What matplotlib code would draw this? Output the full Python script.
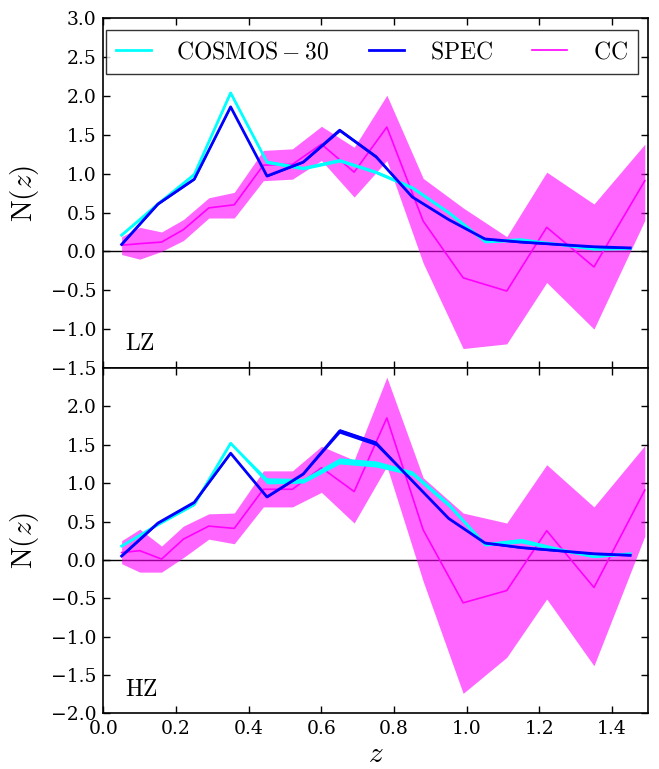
import numpy as np
import matplotlib
matplotlib.use("Agg")
import matplotlib.pyplot as plt

plt.rcParams['font.family'] = ['DejaVu Serif']
plt.rcParams['mathtext.fontset'] = 'cm'

# --- data -------------------------------------------------------------
z_bins = [0.05, 0.15, 0.25, 0.35, 0.45, 0.55, 0.65, 0.75, 0.85, 0.95,
          1.05, 1.15, 1.25, 1.35, 1.45]
z_cc = [0.05, 0.10, 0.16, 0.22, 0.29, 0.36, 0.44, 0.52, 0.60, 0.69,
        0.78, 0.88, 0.99, 1.11, 1.22, 1.35, 1.49]

# LZ panel
lz_cosmos = [0.21, 0.61, 0.99, 2.04, 1.15, 1.07, 1.17, 1.02, 0.82, 0.50,
             0.13, 0.15, 0.09, 0.03, 0.035]
lz_cosmos_err = [0.01, 0.01, 0.01, 0.01, 0.02, 0.02, 0.02, 0.02, 0.02, 0.02,
                 0.02, 0.02, 0.01, 0.01, 0.01]
lz_spec = [0.09, 0.61, 0.93, 1.86, 0.97, 1.15, 1.56, 1.22, 0.70, 0.41,
           0.16, 0.12, 0.09, 0.06, 0.045]
lz_spec_err = [0.01, 0.01, 0.01, 0.01, 0.01, 0.01, 0.02, 0.02, 0.01, 0.01,
               0.01, 0.01, 0.01, 0.01, 0.01]
lz_cc = [0.08, 0.10, 0.12, 0.28, 0.56, 0.60, 1.11, 1.12, 1.38, 1.02,
         1.60, 0.39, -0.34, -0.51, 0.31, -0.20, 0.91]
lz_cc_lo = [-0.04, -0.10, 0.00, 0.14, 0.43, 0.43, 0.91, 0.93, 1.17, 0.70,
            1.17, -0.15, -1.25, -1.19, -0.40, -1.00, 0.40]
lz_cc_hi = [0.19, 0.31, 0.25, 0.41, 0.69, 0.76, 1.30, 1.32, 1.61, 1.34,
            2.01, 0.94, 0.56, 0.19, 1.02, 0.61, 1.38]

# HZ panel
hz_cosmos = [0.18, 0.46, 0.72, 1.52, 1.03, 1.03, 1.29, 1.25, 1.13, 0.72,
             0.20, 0.25, 0.14, 0.04, 0.08]
hz_cosmos_err = [0.01, 0.01, 0.01, 0.01, 0.04, 0.03, 0.04, 0.04, 0.03, 0.03,
                 0.02, 0.03, 0.02, 0.01, 0.01]
hz_spec = [0.05, 0.48, 0.75, 1.39, 0.82, 1.12, 1.68, 1.52, 1.03, 0.54,
           0.22, 0.16, 0.12, 0.08, 0.06]
hz_spec_err = [0.01, 0.01, 0.01, 0.01, 0.01, 0.01, 0.03, 0.03, 0.01, 0.01,
               0.01, 0.01, 0.01, 0.01, 0.01]
hz_cc = [0.095, 0.12, 0.01, 0.27, 0.44, 0.41, 0.92, 0.92, 1.20, 0.89,
         1.85, 0.39, -0.56, -0.40, 0.38, -0.36, 0.91]
hz_cc_lo = [-0.05, -0.16, -0.16, 0.03, 0.27, 0.21, 0.69, 0.69, 0.88, 0.48,
            1.22, -0.28, -1.74, -1.27, -0.51, -1.38, 0.31]
hz_cc_hi = [0.25, 0.40, 0.18, 0.44, 0.60, 0.61, 1.16, 1.16, 1.48, 1.30,
            2.38, 1.07, 0.61, 0.48, 1.24, 0.69, 1.49]

panel_names = ["LZ", "HZ"]
legend_labels = [r"$\rm{COSMOS-30}$", r"$\rm{SPEC}$", r"$\rm{CC}$"]
top_yticks = [-1.5, -1.0, -0.5, 0.0, 0.5, 1.0, 1.5, 2.0, 2.5, 3.0]
bot_yticks = [-2.0, -1.5, -1.0, -0.5, 0.0, 0.5, 1.0, 1.5, 2.0]
xticks = [0.0, 0.2, 0.4, 0.6, 0.8, 1.0, 1.2, 1.4]

# --- figure -----------------------------------------------------------
fig = plt.figure(figsize=(6.59, 7.69), dpi=100)
ax1 = fig.add_axes([0.157, 0.5215, 0.827, 0.4547])
ax2 = fig.add_axes([0.157, 0.0724, 0.827, 0.449])

c_cos = '#00ffff'
c_spec = '#0000ff'
c_cc = '#ff00ff'

panels = [
    (ax1, lz_cosmos, lz_cosmos_err, lz_spec, lz_spec_err, lz_cc, lz_cc_lo, lz_cc_hi),
    (ax2, hz_cosmos, hz_cosmos_err, hz_spec, hz_spec_err, hz_cc, hz_cc_lo, hz_cc_hi),
]

handles = None
for i, (ax, cos, cos_e, spec, spec_e, cc, cc_lo, cc_hi) in enumerate(panels):
    zb = np.array(z_bins)
    cos = np.array(cos); cos_e = np.array(cos_e)
    spec = np.array(spec); spec_e = np.array(spec_e)
    ax.axhline(0, color='k', lw=1.0, zorder=1)
    ax.fill_between(z_cc, cc_lo, cc_hi, color=c_cc, alpha=0.6, lw=0, zorder=2)
    h3, = ax.plot(z_cc, cc, color=c_cc, lw=1.2, zorder=3)
    ax.fill_between(zb, cos - cos_e, cos + cos_e, color=c_cos, lw=0, zorder=4)
    h1, = ax.plot(zb, cos, color=c_cos, lw=2.0, zorder=4)
    ax.fill_between(zb, spec - spec_e, spec + spec_e, color=c_spec, lw=0, zorder=5)
    h2, = ax.plot(zb, spec, color=c_spec, lw=2.0, zorder=5)
    if handles is None:
        handles = [h1, h2, h3]

    ax.set_xlim(0, 1.5)
    ax.set_xticks(xticks)
    ax.tick_params(direction='in', top=True, right=True, length=5, width=1,
                   labelsize=13.5, pad=5)
    for s in ax.spines.values():
        s.set_linewidth(1.2)
    ax.text(0.04, 0.05, r"$\rm{%s}$" % panel_names[i], transform=ax.transAxes,
            fontsize=17, ha='left', va='baseline')
    ax.set_ylabel(r"$\mathrm{N}(z)$", fontsize=21, labelpad=7)

ax1.set_ylim(-1.5, 3.0)
ax1.set_yticks(top_yticks)
ax1.set_xticklabels([])
ax2.set_ylim(-2.0, 2.5)
ax2.set_yticks(bot_yticks)
ax2.set_xticklabels(["%.1f" % t for t in xticks])
ax2.set_xlabel(r"$z$", fontsize=21, labelpad=1)

leg = ax1.legend(handles, legend_labels, loc='upper left',
                 bbox_to_anchor=(0.004, 0.0, 0.977, 0.967), mode='expand',
                 ncol=3, fontsize=17, frameon=True, fancybox=False,
                 handlelength=1.45, handletextpad=1.1, borderpad=0.45,
                 borderaxespad=0.0)
leg.get_frame().set_edgecolor('k')
leg.get_frame().set_linewidth(1.0)

fig.savefig("out.png", dpi=100)
